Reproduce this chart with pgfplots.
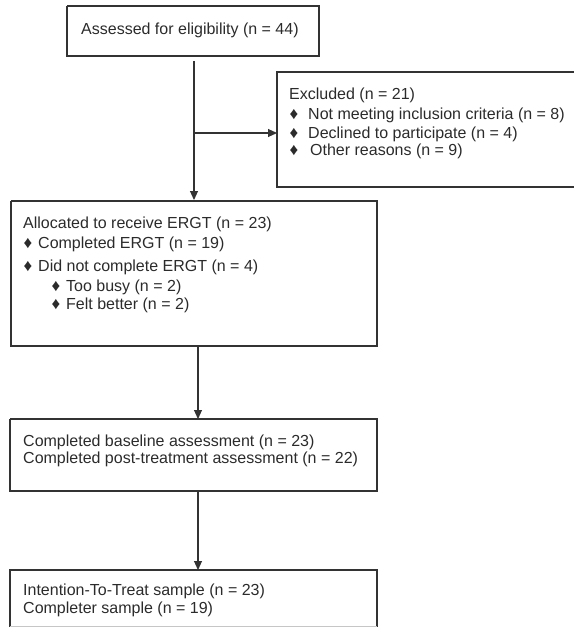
\documentclass[border=0pt]{standalone}
\usepackage{fontspec}
\setmainfont{Liberation Sans}
\usepackage{pgfplots}
\pgfplotsset{compat=1.18}
\usetikzlibrary{arrows.meta}

\definecolor{ink}{HTML}{2B2B2B}
\definecolor{edge}{HTML}{333333}

% one axis unit = one pixel of the reference, y running downwards
\pgfplotsset{
  box/.style={no marks, draw=edge, line width=1.1bp, line join=miter},
  arr/.style={no marks, draw=edge, line width=1.1bp,
    -{Triangle[length=9bp,width=8bp]}},
}
\newcommand{\txt}[3]{\node[anchor=base west, inner sep=0pt, text=ink,
  font=\fontsize{16bp}{19bp}\selectfont] at (axis cs:#1,#2) {#3};}
\newcommand{\bul}[2]{\node[anchor=base, inner sep=0pt, text=ink,
  font=\fontsize{17bp}{19bp}\selectfont] at (axis cs:#1,#2) {♦};}

\begin{document}
\begin{tikzpicture}
\begin{axis}[
    width=574bp, height=627bp, scale only axis,
    xmin=0, xmax=574, ymin=0, ymax=627,
    y dir=reverse, hide axis, clip=false,
  ]
  \coordinate (sw) at (axis cs:0,627);
  \coordinate (ne) at (axis cs:574,0);

  % boxes
  \addplot[box] coordinates {(67,6) (319,6) (319,56) (67,56) (67,6)};
  \addplot[box] coordinates {(590,72) (277,72) (277,187) (590,187)};
  \addplot[box] coordinates {(11,201) (377,201) (377,346) (11,346) (11,201)};
  \addplot[box] coordinates {(10,419) (377,419) (377,491) (10,491) (10,419)};
  \addplot[box] coordinates {(10,627) (10,570) (377,570) (377,627)};
  \addplot[no marks, draw=gray!45, line width=0.8bp] coordinates {(10,626) (377,626)};

  % connectors
  \addplot[arr] coordinates {(194,61) (194,200)};
  \addplot[arr] coordinates {(194,133) (277,133)};
  \addplot[arr] coordinates {(198,346) (198,419)};
  \addplot[arr] coordinates {(198,491) (198,570)};

  % texts
  \txt{81}{35}{Assessed for eligibility (n = 44)}

  \txt{289}{99}{Excluded (n = 21)}
  \bul{294}{119}\txt{308}{119}{Not meeting inclusion criteria (n = 8)}
  \bul{294}{138}\txt{308}{138}{Declined to participate (n = 4)}
  \bul{294}{155}\txt{310}{155}{Other reasons (n = 9)}

  \txt{23}{228}{Allocated to receive ERGT (n = 23)}
  \bul{28}{248}\txt{38}{248}{Completed ERGT (n = 19)}
  \bul{28}{271}\txt{38}{271}{Did not complete ERGT (n = 4)}
  \bul{56}{291}\txt{66}{291}{Too busy (n = 2)}
  \bul{56}{309}\txt{66}{309}{Felt better (n = 2)}

  \txt{23}{446}{Completed baseline assessment (n = 23)}
  \txt{23}{463}{Completed post-treatment assessment (n = 22)}

  \txt{23}{595}{Intention-To-Treat sample (n = 23)}
  \txt{23}{613}{Completer sample (n = 19)}
\end{axis}
\pgfresetboundingbox
\path (sw) rectangle (ne);
\end{tikzpicture}
\end{document}
